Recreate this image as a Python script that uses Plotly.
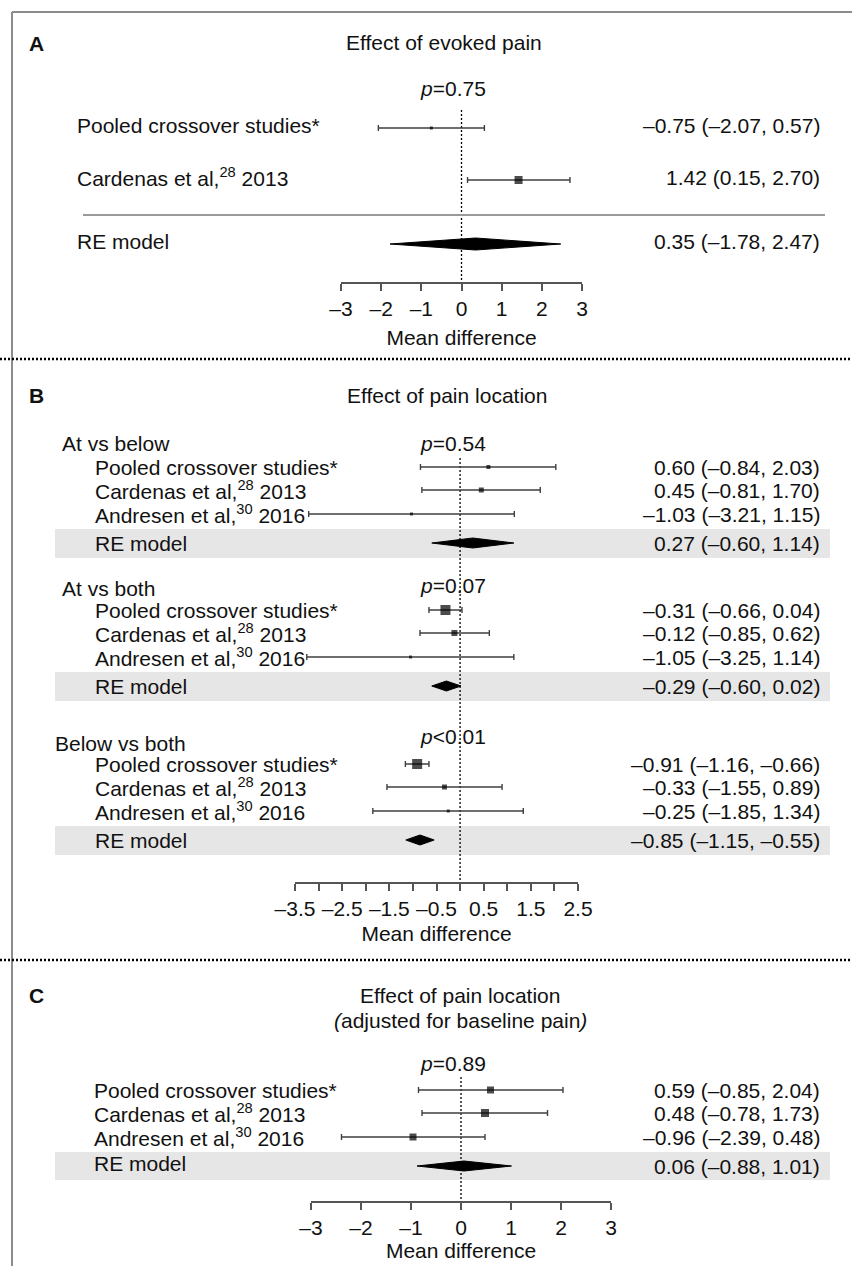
import plotly.graph_objects as go

W, H = 852, 1266

# ---------------- data ----------------
# panel A: effect of evoked pain
a_studies = ["Pooled crossover studies*", "Cardenas et al,<sup>28</sup> 2013"]
a_est = [-0.75, 1.42]
a_lo = [-2.07, 0.15]
a_hi = [0.57, 2.70]
a_re = [0.35, -1.78, 2.47]          # estimate, lower, upper
a_pval = "<i>p</i>=0.75"

# panel B: effect of pain location
b_groups = ["At vs below", "At vs both", "Below vs both"]
b_pvals = ["<i>p</i>=0.54", "<i>p</i>=0.07", "<i>p</i>&lt;0.01"]
b_studies = ["Pooled crossover studies*", "Cardenas et al,<sup>28</sup> 2013",
             "Andresen et al,<sup>30</sup> 2016"]
b_est = [[0.60, 0.45, -1.03], [-0.31, -0.12, -1.05], [-0.91, -0.33, -0.25]]
b_lo = [[-0.84, -0.81, -3.21], [-0.66, -0.85, -3.25], [-1.16, -1.55, -1.85]]
b_hi = [[2.03, 1.70, 1.15], [0.04, 0.62, 1.14], [-0.66, 0.89, 1.34]]
b_re_est = [0.27, -0.29, -0.85]
b_re_lo = [-0.60, -0.60, -1.15]
b_re_hi = [1.14, 0.02, -0.55]

# panel C: effect of pain location adjusted for baseline pain
c_studies = ["Pooled crossover studies*", "Cardenas et al,<sup>28</sup> 2013",
             "Andresen et al,<sup>30</sup> 2016"]
c_est = [0.59, 0.48, -0.96]
c_lo = [-0.85, -0.78, -2.39]
c_hi = [2.04, 1.73, 0.48]
c_re = [0.06, -0.88, 1.01]
c_pval = "<i>p</i>=0.89"

ticks_int = [-3, -2, -1, 0, 1, 2, 3]
ticks_int_text = ["–3", "–2", "–1", "0", "1", "2", "3"]
ticks_half = [-3.5, -2.5, -1.5, -0.5, 0.5, 1.5, 2.5]
ticks_half_text = ["–3.5", "–2.5", "–1.5", "–0.5", "0.5", "1.5", "2.5"]
ticks_half_minor = [-3, -2, -1, 0, 1, 2]

# marker sizes (study weights)
a_sizes = [3, 8]
b_sizes = [[4, 5, 3], [10, 6, 3], [10, 5, 3]]
c_sizes = [7, 8, 7]

FONT = "Liberation Sans, Arial, sans-serif"
BAR = "#404040"


def fmt(v):
    return f"{v:.2f}".replace("-", "–")


def ci_text(e, lo, hi):
    return f"{fmt(e)} ({fmt(lo)}, {fmt(hi)})"


fig = go.Figure()
ann = []
shapes = []


def txt(x, y, s, anchor="left", size=21, bold=False):
    if bold:
        s = f"<b>{s}</b>"
    ann.append(dict(x=x, y=y, xref="x", yref="y", text=s, showarrow=False,
                    xanchor=anchor, yanchor="middle",
                    font=dict(size=size, color="#111", family=FONT)))


def study_marks(xa, ys, est, lo, hi, sizes):
    fig.add_trace(go.Scatter(
        x=est, y=ys, xaxis=xa, yaxis="y", mode="markers",
        marker=dict(symbol="square", size=sizes, color="black", line=dict(width=0)),
        error_x=dict(type="data", symmetric=False,
                     array=[h - e for e, h in zip(est, hi)],
                     arrayminus=[e - l for e, l in zip(est, lo)],
                     width=3, thickness=1.4, color=BAR),
        showlegend=False, hoverinfo="skip", cliponaxis=False))


def diamond(xa, y, est, lo, hi, hh=5):
    fig.add_trace(go.Scatter(
        x=[lo, est, hi, est, lo], y=[y, y - hh, y, y + hh, y],
        xaxis=xa, yaxis="y", mode="lines", fill="toself",
        fillcolor="black", line=dict(color="black", width=1),
        showlegend=False, hoverinfo="skip"))


def hline(x0, x1, y, color, width, dash="solid"):
    shapes.append(dict(type="line", xref="x", yref="y", x0=x0, x1=x1, y0=y, y1=y,
                       line=dict(color=color, width=width, dash=dash)))


def zero_line(xa, y0, y1):
    shapes.append(dict(type="line", xref=xa, yref="y", x0=0, x1=0, y0=y0, y1=y1,
                       line=dict(color="black", width=1.3, dash="2px,2px"), layer="below"))


def band(y0, y1):
    shapes.append(dict(type="rect", xref="x", yref="y", x0=55, x1=830, y0=y0, y1=y1,
                       fillcolor="#e6e6e6", line=dict(width=0), layer="below"))


# frame and separators
shapes.append(dict(type="line", xref="x", yref="y", x0=12, x1=W, y0=12, y1=12,
                   line=dict(color="#8c8c8c", width=2)))
shapes.append(dict(type="line", xref="x", yref="y", x0=12, x1=12, y0=12, y1=H,
                   line=dict(color="#8c8c8c", width=2)))
hline(0, W, 359, "black", 2.5, "2px,2px")
hline(0, W, 960, "black", 2.5, "2px,2px")

# ---------------- panel A ----------------
txt(27, 43, "A", bold=True)
txt(444, 42, "Effect of evoked pain", "center")
txt(453, 88, a_pval, "center")
a_rows = [128, 180]
a_re_y = 244
zero_line("x2", 110, 283)
hline(83, 825, 215, "#9a9a9a", 2)
for i, lab in enumerate(a_studies):
    txt(75, a_rows[i] - 3, lab)
    txt(822, a_rows[i] - 3, ci_text(a_est[i], a_lo[i], a_hi[i]), "right")
study_marks("x2", a_rows, a_est, a_lo, a_hi, a_sizes)
txt(75, a_re_y - 3, "RE model")
txt(822, a_re_y - 3, ci_text(*a_re), "right")
diamond("x2", a_re_y, a_re[0], a_re[1], a_re[2], 6)

# ---------------- panel B ----------------
txt(27, 395, "B", bold=True)
txt(447, 395, "Effect of pain location", "center")
b_heads = [443, 586, 740]
b_group_x = [60, 60, 53]
b_group_dy = [0, 2, 3]
b_p_dy = [0, -1, -4]
zero_line("x3", 458, 883)
for g, h in enumerate(b_heads):
    band(h + 86, h + 115)
    txt(b_group_x[g], h + b_group_dy[g], b_groups[g])
    txt(453, h + b_p_dy[g], b_pvals[g], "center")
    rows = [h + 24, h + 47, h + 71]
    for i, lab in enumerate(b_studies):
        txt(93, rows[i], lab)
        txt(822, rows[i], ci_text(b_est[g][i], b_lo[g][i], b_hi[g][i]), "right")
    study_marks("x3", rows, b_est[g], b_lo[g], b_hi[g], b_sizes[g])
    txt(93, h + 100, "RE model")
    txt(822, h + 100, ci_text(b_re_est[g], b_re_lo[g], b_re_hi[g]), "right")
    diamond("x3", h + 100, b_re_est[g], b_re_lo[g], b_re_hi[g], 5)

# ---------------- panel C ----------------
txt(27, 995, "C", bold=True)
txt(460, 995, "Effect of pain location", "center")
txt(460, 1020, "<i>(</i>adjusted for baseline pain<i>)</i>", "center")
txt(453, 1063, c_pval, "center")
c_rows = [1090, 1113, 1137]
c_re_y = 1166
zero_line("x4", 1077, 1202)
band(1152, 1180)
for i, lab in enumerate(c_studies):
    txt(92, c_rows[i], lab)
    txt(822, c_rows[i], ci_text(c_est[i], c_lo[i], c_hi[i]), "right")
study_marks("x4", c_rows, c_est, c_lo, c_hi, c_sizes)
txt(92, c_re_y - 3, "RE model")
txt(822, c_re_y, ci_text(*c_re), "right")
diamond("x4", c_re_y, c_re[0], c_re[1], c_re[2], 5)


def panel_axis(x0, x1, rng, vals, text, ypix, minor_vals=None, standoff=6):
    ax = dict(domain=[x0 / W, x1 / W], range=rng, anchor="free", position=1 - ypix / H,
              showline=True, linecolor="#555", linewidth=1.5,
              ticks="outside", ticklen=7, tickwidth=1.5, tickcolor="#555",
              tickvals=vals, ticktext=text, tickangle=0,
              tickfont=dict(size=21, color="#111", family=FONT),
              showgrid=False, zeroline=False, fixedrange=True, automargin=False,
              title=dict(text="Mean difference", standoff=standoff,
                         font=dict(size=21, color="#111", family=FONT)))
    if minor_vals:
        ax["minor"] = dict(tickmode="array", tickvals=minor_vals, ticks="outside",
                           ticklen=7, tickwidth=1.5, tickcolor="#555", showgrid=False)
    return ax


fig.update_layout(
    width=W, height=H,
    margin=dict(l=0, r=0, t=0, b=0),
    paper_bgcolor="white", plot_bgcolor="rgba(0,0,0,0)",
    font=dict(family=FONT, color="#111"),
    xaxis=dict(range=[0, W], domain=[0, 1], visible=False, fixedrange=True),
    yaxis=dict(range=[H, 0], domain=[0, 1], visible=False, fixedrange=True),
    xaxis2=panel_axis(341, 582, [-3, 3], ticks_int, ticks_int_text, 283, standoff=10),
    xaxis3=panel_axis(295, 578, [-3.5, 2.5], ticks_half, ticks_half_text, 883,
                      ticks_half_minor),
    xaxis4=panel_axis(311, 611, [-3, 3], ticks_int, ticks_int_text, 1202, standoff=2),
    annotations=ann,
    shapes=shapes,
    showlegend=False,
)

# the page's default body margin would shift the whole figure by 8px
fig.write_html("out.html", config={"displayModeBar": False},
               post_script="document.body.style.margin='0';")
